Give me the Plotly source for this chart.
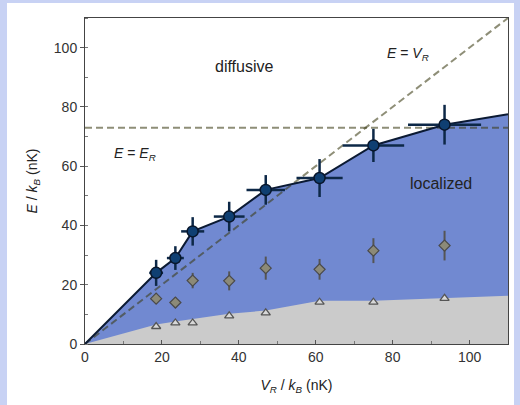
import plotly.graph_objects as go

# Data
x_pts = [18.5, 23.5, 28.0, 37.5, 47.0, 61.0, 75.0, 93.5]
e_loc = [24.0, 29.0, 38.0, 43.0, 52.0, 56.0, 67.0, 74.0]
e_loc_xerr = [1.8, 2.2, 3.0, 4.0, 5.0, 6.0, 8.0, 9.5]
e_loc_yerr = [4.4, 4.0, 4.8, 5.0, 5.0, 6.4, 5.6, 6.7]
e_mid = [15.3, 14.0, 21.4, 21.3, 25.6, 25.2, 31.5, 33.2]
e_mid_err = [1.8, 1.8, 2.6, 3.2, 3.9, 3.5, 4.2, 5.0]
e_low = [5.9, 7.1, 7.1, 9.5, 10.5, 14.1, 14.1, 15.4]

edge_x = [0] + x_pts + [110]
edge_top = [0] + e_loc + [77.5]
gray_edge = [0, 6.6, 7.6, 8.4, 10.2, 11.3, 14.6, 14.6, 15.6, 16.3]

E_R = 73.0
x_range = [0, 110]
y_range = [0, 110]

fig = go.Figure()

# blue localized region
fig.add_trace(go.Scatter(x=edge_x, y=edge_top, mode="lines", fill="tozeroy",
                         fillcolor="#7189d1", line=dict(color="rgba(0,0,0,0)", width=0),
                         hoverinfo="skip", showlegend=False))
# gray region
fig.add_trace(go.Scatter(x=edge_x, y=gray_edge, mode="lines", fill="tozeroy",
                         fillcolor="#cbcbcb", line=dict(color="rgba(0,0,0,0)", width=0),
                         hoverinfo="skip", showlegend=False))
# dashed reference lines
dash_line = dict(color="rgba(60,60,20,0.58)", width=2, dash="7px,4px")
fig.add_trace(go.Scatter(x=x_range, y=[E_R, E_R], mode="lines", line=dash_line,
                         hoverinfo="skip", showlegend=False))
fig.add_trace(go.Scatter(x=x_range, y=y_range, mode="lines", line=dash_line,
                         hoverinfo="skip", showlegend=False))
# boundary line
fig.add_trace(go.Scatter(x=edge_x, y=edge_top, mode="lines",
                         line=dict(color="#0b1a33", width=2),
                         hoverinfo="skip", showlegend=False))
# triangles
fig.add_trace(go.Scatter(x=x_pts, y=e_low, mode="markers",
                         marker=dict(symbol="triangle-up", size=8, color="#d8d8d8",
                                     line=dict(color="#555555", width=1.3)),
                         showlegend=False))
# diamonds
fig.add_trace(go.Scatter(x=x_pts, y=e_mid, mode="markers",
                         error_y=dict(type="data", array=e_mid_err, color="#555555",
                                      thickness=2, width=0),
                         marker=dict(symbol="diamond", size=8.5, color="#8c8a78",
                                     line=dict(color="#4a4a4a", width=1.2)),
                         showlegend=False))
# localization edge points
fig.add_trace(go.Scatter(x=x_pts, y=e_loc, mode="markers",
                         error_y=dict(type="data", array=e_loc_yerr, color="#0d2847",
                                      thickness=2.5, width=0),
                         error_x=dict(type="data", array=e_loc_xerr, color="#0d2847",
                                      thickness=2.5, width=0),
                         marker=dict(symbol="circle", size=11, color="#0f3f72",
                                     line=dict(color="#08162b", width=1.5)),
                         showlegend=False))

font_fam = "Liberation Sans, Arial, sans-serif"
txt = dict(family=font_fam, size=14, color="#222222")
big = dict(family=font_fam, size=16, color="#222222")
fig.add_annotation(x=41.5, y=93.5, text="diffusive", showarrow=False, font=big)
fig.add_annotation(x=92.5, y=54.2, text="localized", showarrow=False, font=big)
fig.add_annotation(x=84, y=98, text="<i>E</i> = <i>V</i><sub><i>R</i></sub>", showarrow=False, font=txt)
fig.add_annotation(x=13, y=64, text="<i>E</i> = <i>E</i><sub><i>R</i></sub>", showarrow=False, font=txt)

# page panels
fig.add_shape(type="rect", xref="paper", yref="paper", x0=-0.1844, x1=1.0142, y0=-0.19, y1=1.046,
              fillcolor="white", line=dict(width=0), layer="below")

axis_common = dict(showline=True, linecolor="#444444", linewidth=1, mirror=True,
                   showgrid=False, zeroline=False, range=[0, 110],
                   tickfont=dict(family=font_fam, size=14, color="#333333"),
                   ticklen=4, tickcolor="#555555", dtick=20, tick0=0,
                   minor=dict(dtick=10, ticklen=3, tickcolor="#777777", ticks="inside"))

fig.update_layout(
    width=520, height=405,
    margin=dict(l=85, r=12, t=18, b=61),
    paper_bgcolor="#c8d2f4",
    plot_bgcolor="#ffff6c",
    xaxis=dict(**axis_common, ticks="inside",
               title=dict(text="<i>V</i><sub><i>R</i></sub> / <i>k</i><sub><i>B</i></sub> (nK)",
                          font=dict(family=font_fam, size=14, color="#222222"), standoff=16)),
    yaxis=dict(**axis_common, ticks="outside",
               title=dict(text="<i>E</i> / <i>k</i><sub><i>B</i></sub> (nK)",
                          font=dict(family=font_fam, size=14, color="#222222"), standoff=12)),
)

fig.write_html("out.html")
